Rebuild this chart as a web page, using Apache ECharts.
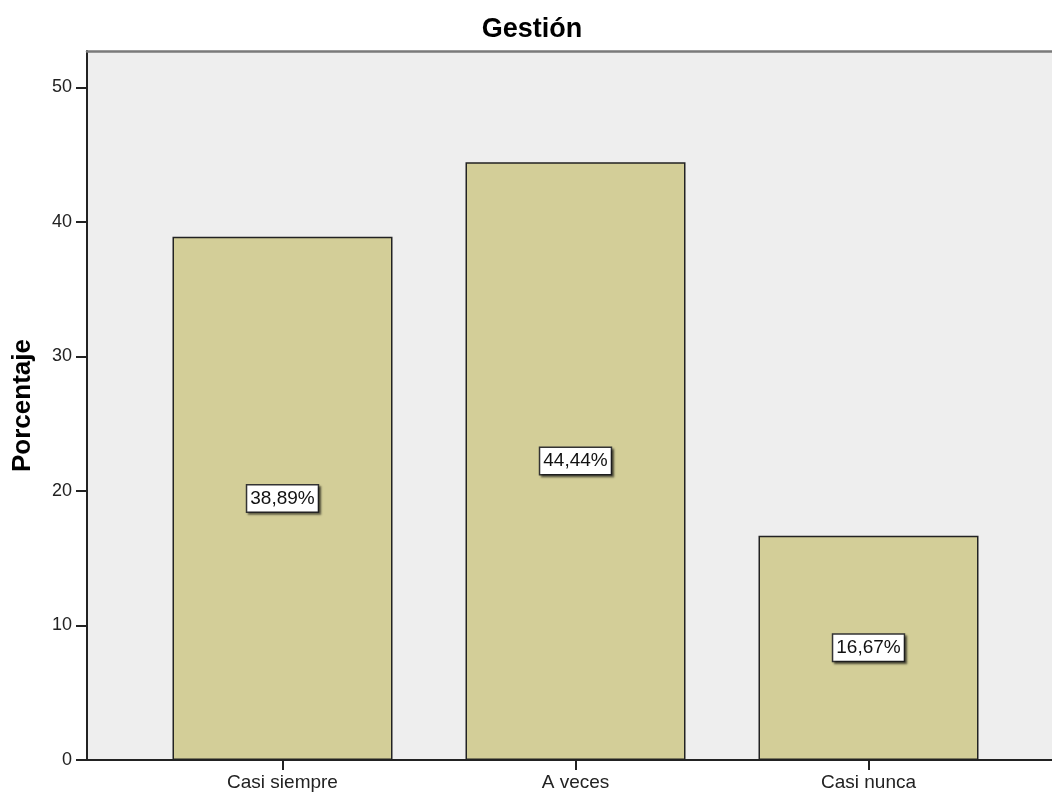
<!DOCTYPE html>
<html>
<head>
<meta charset="utf-8">
<script src="https://cdn.jsdelivr.net/npm/echarts@6/dist/echarts.min.js"></script>
<style>
html,body{margin:0;padding:0;background:#fff;}
#chart{width:1052px;height:792px;}
</style>
</head>
<body>
<div id="chart"></div>
<script>
const categories = ['Casi siempre', 'A veces', 'Casi nunca'];
const percentages = [38.89, 44.44, 16.67];
const yTicks = [0, 10, 20, 30, 40, 50];
const titleText = 'Gestión';
const yName = 'Porcentaje';

const FONT = "'Liberation Sans', Arial, sans-serif";
const chart = echarts.init(document.getElementById('chart'), null, {renderer: 'canvas'});

const yMax = 52.7;

chart.setOption({
  animation: false,
  backgroundColor: '#ffffff',
  title: {
    text: titleText,
    left: 527,
    top: 11,
    textAlign: 'center',
    textStyle: {fontFamily: FONT, fontSize: 27, fontWeight: 'bold', color: '#000'}
  },
  grid: [
    {left: 87, right: 0, top: 51, bottom: 32, show: true, backgroundColor: '#eeeeee', borderWidth: 0},
    {left: 136, width: 879, top: 51, bottom: 32}
  ],
  xAxis: [
    {gridIndex: 0, type: 'value', min: 0, max: 1, axisLabel: {show: false}, axisTick: {show: false}, splitLine: {show: false},
     axisLine: {show: true, onZero: false, lineStyle: {color: '#222', width: 2}}},
    {gridIndex: 1, type: 'category', data: categories, boundaryGap: true,
     axisLine: {show: false},
     axisTick: {show: true, alignWithLabel: true, length: 10, lineStyle: {color: '#222', width: 2}},
     axisLabel: {fontFamily: FONT, fontSize: 19, color: '#222', margin: 13},
     splitLine: {show: false}},
    {gridIndex: 0, type: 'value', position: 'top', min: 0, max: 1, axisLabel: {show: false}, axisTick: {show: false}, splitLine: {show: false},
     axisLine: {show: true, onZero: false, lineStyle: {color: '#7a7a7a', width: 2.5}}}
  ],
  yAxis: [
    {gridIndex: 0, type: 'value', min: 0, max: yMax,
     name: yName, nameLocation: 'middle', nameGap: 51,
     nameTextStyle: {fontFamily: FONT, fontSize: 26, fontWeight: 'bold', color: '#000'},
     axisLine: {show: true, lineStyle: {color: '#222', width: 2}},
     axisTick: {show: true, length: 11, customValues: yTicks, lineStyle: {color: '#222', width: 2}},
     axisLabel: {fontFamily: FONT, fontSize: 18, color: '#222', margin: 15, customValues: yTicks},
     splitLine: {show: false}},
    {gridIndex: 1, type: 'value', min: 0, max: yMax, show: false, splitLine: {show: false}}
  ],
  series: [{
    type: 'bar',
    xAxisIndex: 1,
    yAxisIndex: 1,
    data: percentages,
    barWidth: 220,
    itemStyle: {color: '#d3ce98', borderColor: '#222', borderWidth: 1.5},
    label: {
      show: true,
      position: 'inside',
      formatter: p => p.value.toFixed(2).replace('.', ',') + '%',
      fontFamily: FONT,
      fontSize: 19,
      color: '#111',
      backgroundColor: '#ffffff',
      borderColor: '#333',
      borderWidth: 1.5,
      padding: [4, 3, 3, 3],
      shadowColor: 'rgba(0,0,0,0.45)',
      shadowOffsetX: 2,
      shadowOffsetY: 2,
      shadowBlur: 2
    }
  }]
});
</script>
</body>
</html>
